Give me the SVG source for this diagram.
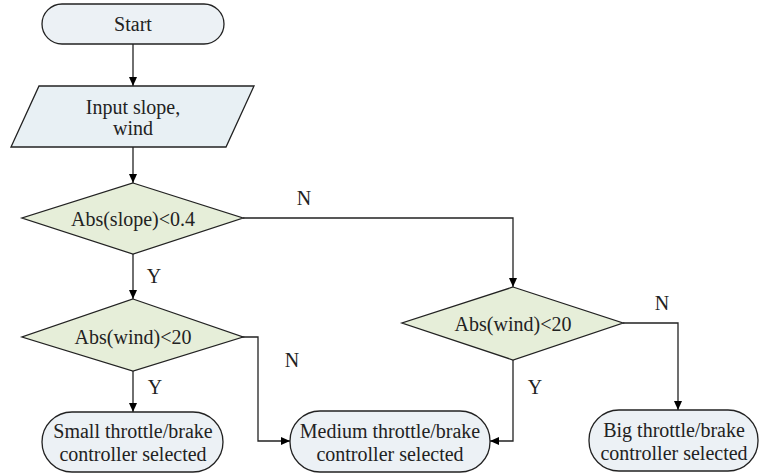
<svg xmlns="http://www.w3.org/2000/svg" width="760" height="476" viewBox="0 0 760 476">
<defs>
<marker id="arr" markerUnits="userSpaceOnUse" markerWidth="10" markerHeight="8" refX="9" refY="4" orient="auto">
<path d="M0,0 L9,4 L0,8 Z" fill="#000"/>
</marker>
<style>
.term{fill:#ECF1F5;stroke:#222;stroke-width:1.3}
.io{fill:#E8F0F4;stroke:#222;stroke-width:1.3}
.dec{fill:#E6EED9;stroke:#222;stroke-width:1.3}
.c{fill:none;stroke:#222;stroke-width:1.3;marker-end:url(#arr)}
.t{fill:#222;text-anchor:middle}
</style>
</defs>
<rect width="760" height="476" fill="#fff"/>
<g id="connectors">
<path class="c" d="M133,44 V86"/>
<path class="c" d="M133,147 V183"/>
<path class="c" d="M133,254 V299"/>
<path class="c" d="M243,218 H513 V287"/>
<path class="c" d="M133,371 V412"/>
<path class="c" d="M242,337 H258 V441 H290"/>
<path class="c" d="M513,360 V441 H490"/>
<path class="c" d="M623,323 H678 V410"/>
<g font-family="Liberation Serif, Times New Roman, serif" font-size="20">
<text class="t" x="304" y="205">N</text>
<text class="t" x="154" y="283">Y</text>
<text class="t" x="155" y="394">Y</text>
<text class="t" x="292" y="367">N</text>
<text class="t" x="535" y="394">Y</text>
<text class="t" x="662" y="310">N</text>
</g>
</g>
<g font-family="Liberation Serif, Times New Roman, serif" font-size="20">
<g id="start">
<rect class="term" x="42" y="4" width="182" height="40" rx="20"/>
<text class="t" x="133" y="31">Start</text>
</g>
<g id="input">
<polygon class="io" points="39,86 254,86 226,147 11,147"/>
<text class="t" x="133" y="114">Input slope,</text>
<text class="t" x="133" y="135">wind</text>
</g>
<g id="dec-slope">
<polygon class="dec" points="133,183 243,218 133,254 22,218"/>
<text class="t" x="133" y="226">Abs(slope)&lt;0.4</text>
</g>
<g id="dec-wind-left">
<polygon class="dec" points="133,299 243,337 133,371 22,337"/>
<text class="t" x="133" y="344">Abs(wind)&lt;20</text>
</g>
<g id="dec-wind-right">
<polygon class="dec" points="513,287 623,323 513,360 402,323"/>
<text class="t" x="513" y="331">Abs(wind)&lt;20</text>
</g>
<g id="small">
<rect class="term" x="42" y="412" width="181" height="60" rx="30"/>
<text class="t" x="133" y="438">Small throttle/brake</text>
<text class="t" x="133" y="461">controller selected</text>
</g>
<g id="medium">
<rect class="term" x="290" y="411" width="200" height="61" rx="30"/>
<text class="t" x="390" y="438">Medium throttle/brake</text>
<text class="t" x="390" y="461">controller selected</text>
</g>
<g id="big">
<rect class="term" x="589" y="410" width="169" height="61" rx="30"/>
<text class="t" x="674" y="437">Big throttle/brake</text>
<text class="t" x="674" y="460">controller selected</text>
</g>
</g>
</svg>
